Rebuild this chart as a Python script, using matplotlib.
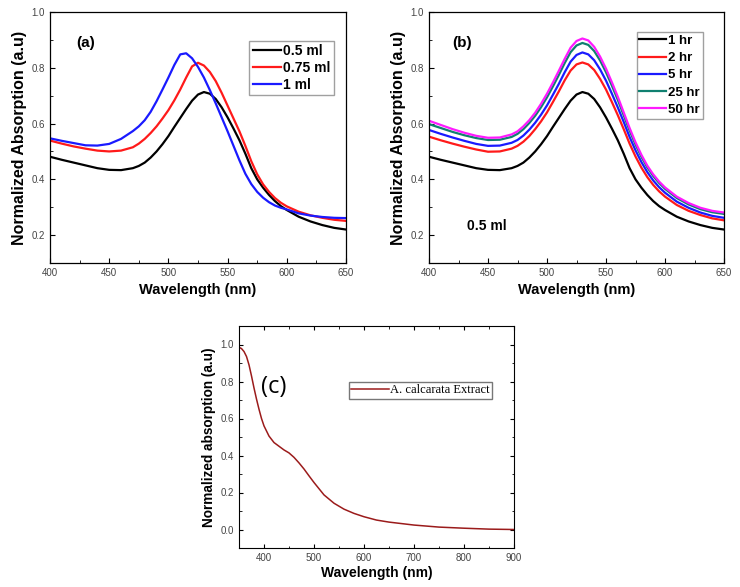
"""UV-vis absorption spectra: panels (a), (b) and extract spectrum (c)."""

import matplotlib
matplotlib.use("Agg")
import matplotlib.pyplot as plt
from matplotlib.ticker import MultipleLocator

plt.rcParams["font.family"] = ["Liberation Sans", "DejaVu Sans"]

# wavelength grid for panels (a) and (b), nm
wl_ab = [400, 410, 420, 430, 440, 450, 460, 470, 475, 480, 485, 490, 495, 500,
         505, 510, 515, 520, 525, 530, 535, 540, 545, 550, 555, 560, 565, 570,
         575, 580, 585, 590, 595, 600, 610, 620, 630, 640, 650]

# panel (a): volume series
vol_labels = ["0.5 ml", "0.75 ml", "1 ml"]
abs_05ml = [0.481, 0.470, 0.460, 0.450, 0.440, 0.434, 0.433, 0.440, 0.448, 0.460,
            0.478, 0.500, 0.526, 0.555, 0.588, 0.620, 0.652, 0.682, 0.704, 0.713,
            0.707, 0.688, 0.658, 0.622, 0.582, 0.540, 0.492, 0.440, 0.400, 0.370,
            0.344, 0.322, 0.304, 0.290, 0.266, 0.249, 0.236, 0.226, 0.220]
abs_075ml = [0.539, 0.528, 0.518, 0.510, 0.503, 0.500, 0.503, 0.515, 0.528, 0.545,
             0.566, 0.590, 0.618, 0.648, 0.683, 0.722, 0.765, 0.805, 0.818, 0.808,
             0.785, 0.752, 0.710, 0.664, 0.618, 0.572, 0.520, 0.465, 0.418, 0.382,
             0.355, 0.333, 0.316, 0.303, 0.284, 0.271, 0.262, 0.255, 0.251]
abs_1ml = [0.547, 0.538, 0.530, 0.522, 0.521, 0.527, 0.545, 0.573, 0.590, 0.612,
           0.642, 0.680, 0.722, 0.765, 0.810, 0.848, 0.852, 0.834, 0.803, 0.765,
           0.720, 0.672, 0.622, 0.572, 0.520, 0.468, 0.420, 0.383, 0.355, 0.334,
           0.318, 0.306, 0.298, 0.292, 0.278, 0.270, 0.265, 0.262, 0.261]

# panel (b): time series for 0.5 ml
time_labels = ["1 hr", "2 hr", "5 hr", "25 hr", "50 hr"]
abs_1hr = abs_05ml
abs_2hr = [0.553, 0.540, 0.528, 0.517, 0.507, 0.499, 0.500, 0.510, 0.520, 0.535,
           0.555, 0.580, 0.608, 0.640, 0.677, 0.715, 0.755, 0.790, 0.812, 0.819,
           0.812, 0.792, 0.760, 0.722, 0.677, 0.630, 0.580, 0.528, 0.482, 0.442,
           0.408, 0.380, 0.357, 0.338, 0.308, 0.287, 0.272, 0.260, 0.253]
abs_5hr = [0.577, 0.563, 0.550, 0.538, 0.527, 0.520, 0.521, 0.531, 0.541, 0.557,
           0.578, 0.603, 0.632, 0.665, 0.703, 0.742, 0.784, 0.822, 0.846, 0.855,
           0.848, 0.827, 0.794, 0.754, 0.707, 0.658, 0.606, 0.552, 0.504, 0.462,
           0.426, 0.396, 0.372, 0.352, 0.320, 0.298, 0.281, 0.269, 0.262]
abs_25hr = [0.598, 0.584, 0.570, 0.558, 0.548, 0.541, 0.542, 0.552, 0.563, 0.580,
            0.602, 0.628, 0.659, 0.694, 0.733, 0.774, 0.817, 0.856, 0.880, 0.889,
            0.882, 0.860, 0.826, 0.784, 0.736, 0.685, 0.630, 0.575, 0.525, 0.481,
            0.443, 0.412, 0.387, 0.366, 0.333, 0.310, 0.293, 0.282, 0.276]
abs_50hr = [0.610, 0.595, 0.580, 0.567, 0.556, 0.549, 0.550, 0.561, 0.572, 0.590,
            0.612, 0.639, 0.671, 0.707, 0.747, 0.789, 0.832, 0.872, 0.896, 0.905,
            0.898, 0.875, 0.840, 0.797, 0.748, 0.696, 0.640, 0.584, 0.533, 0.488,
            0.449, 0.418, 0.392, 0.371, 0.338, 0.315, 0.298, 0.287, 0.281]

# panel (c): extract spectrum
wl_c = [350, 355, 360, 365, 370, 375, 380, 385, 390, 395, 400, 410, 420, 430, 440,
        450, 460, 470, 480, 490, 500, 520, 540, 560, 580, 600, 625, 650, 700, 750,
        800, 850, 900]
abs_extract = [0.985, 0.978, 0.962, 0.935, 0.890, 0.830, 0.765, 0.705, 0.650, 0.600,
               0.560, 0.505, 0.470, 0.450, 0.430, 0.414, 0.390, 0.360, 0.327, 0.290,
               0.254, 0.187, 0.142, 0.110, 0.087, 0.069, 0.051, 0.040, 0.024, 0.013,
               0.007, 0.002, 0.0]

W, H = 740, 587


def px_axes(fig, left, top, right, bottom):
    return fig.add_axes([left / W, (H - bottom) / H, (right - left) / W, (bottom - top) / H])


def style_ab(ax):
    ax.set_xlim(400, 650)
    ax.set_ylim(0.1, 1.0)
    ax.xaxis.set_major_locator(MultipleLocator(50))
    ax.xaxis.set_minor_locator(MultipleLocator(25))
    ax.yaxis.set_major_locator(MultipleLocator(0.2))
    ax.yaxis.set_minor_locator(MultipleLocator(0.1))
    ax.tick_params(which="both", direction="in", labelsize=7, labelcolor="#444444")
    ax.tick_params(which="major", length=3.5)
    ax.tick_params(which="minor", length=2)
    ax.set_xlabel("Wavelength (nm)", fontsize=10.5, fontweight="bold", labelpad=4)
    ax.set_ylabel("Normalized Absorption (a.u)", fontsize=11.5, fontweight="bold", labelpad=3)
    for s in ax.spines.values():
        s.set_linewidth(0.9)


fig = plt.figure(figsize=(W / 100, H / 100), dpi=100)

# (a)
ax_a = px_axes(fig, 50, 12, 346, 263)
for y, lab, c in zip([abs_05ml, abs_075ml, abs_1ml], vol_labels, ["black", "#ff1a1a", "#1a1aff"]):
    ax_a.plot(wl_ab, y, color=c, lw=1.6, label=lab)
style_ab(ax_a)
ax_a.text(0.09, 0.86, "(a)", transform=ax_a.transAxes, fontsize=11, fontweight="bold")
ax_a.legend(loc="upper right", bbox_to_anchor=(0.96, 0.885),
            prop={"weight": "bold", "size": 10}, frameon=True, fancybox=False,
            edgecolor="#888888", handlelength=2.0, handletextpad=0.2,
            borderpad=0.25, labelspacing=0.2, borderaxespad=0.0)

# (b)
ax_b = px_axes(fig, 429, 12, 724, 263)
for y, lab, c in zip([abs_1hr, abs_2hr, abs_5hr, abs_25hr, abs_50hr], time_labels,
                     ["black", "#ff1a1a", "#1a1aff", "#108070", "#ff1aff"]):
    ax_b.plot(wl_ab, y, color=c, lw=1.6, label=lab)
style_ab(ax_b)
ax_b.text(0.08, 0.86, "(b)", transform=ax_b.transAxes, fontsize=11, fontweight="bold")
ax_b.text(0.13, 0.13, "0.5 ml", transform=ax_b.transAxes, fontsize=10, fontweight="bold")
ax_b.legend(loc="upper right", bbox_to_anchor=(0.928, 0.92),
            prop={"weight": "bold", "size": 9.5}, frameon=True, fancybox=False,
            edgecolor="#888888", handlelength=2.0, handletextpad=0.2,
            borderpad=0.2, labelspacing=0.38, borderaxespad=0.0)

# (c)
ax_c = px_axes(fig, 239, 326, 514, 548)
ax_c.plot(wl_c, abs_extract, color="#9b1b1b", lw=1.1, label="A. calcarata Extract")
ax_c.set_xlim(350, 900)
ax_c.set_ylim(-0.1, 1.1)
ax_c.xaxis.set_major_locator(MultipleLocator(100))
ax_c.xaxis.set_minor_locator(MultipleLocator(50))
ax_c.yaxis.set_major_locator(MultipleLocator(0.2))
ax_c.yaxis.set_minor_locator(MultipleLocator(0.1))
ax_c.tick_params(which="both", direction="in", top=True, right=True,
                 labelsize=7, labelcolor="#444444")
ax_c.tick_params(which="major", length=3)
ax_c.tick_params(which="minor", length=1.8)
ax_c.set_xlabel("Wavelength (nm)", fontsize=10, fontweight="bold", labelpad=2)
ax_c.set_ylabel("Normalized absorption (a.u)", fontsize=9.8, fontweight="bold", labelpad=3)
ax_c.text(0.08, 0.70, "(c)", transform=ax_c.transAxes, fontsize=17, family="Open Sans")
ax_c.legend(loc="upper right", bbox_to_anchor=(0.92, 0.748),
            prop={"family": "Liberation Serif", "size": 9}, frameon=True, fancybox=False,
            edgecolor="#555555", handlelength=3.0, handletextpad=0.1,
            borderpad=0.2, borderaxespad=0.0)

fig.savefig("out.png", dpi=100)
